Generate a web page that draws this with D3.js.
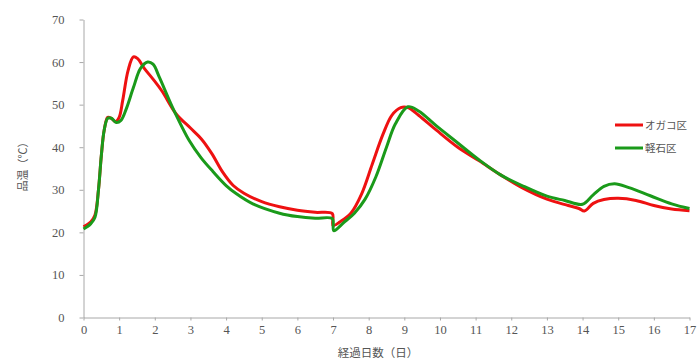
<!DOCTYPE html>
<html><head><meta charset="utf-8">
<script src="https://cdn.jsdelivr.net/npm/d3@7"></script>
<style>body{margin:0;background:#fff}svg{display:block}</style>
</head><body>
<svg id="c" width="697" height="360"></svg>
<script>
const seriesNames = ["オガコ区", "軽石区"];
const seriesColors = ["#ee1111", "#1a9a1a"];
const xTicks = d3.range(0, 18);
const yTicks = [0, 10, 20, 30, 40, 50, 60, 70];
const ogakoDays = [0,0.2,0.32,0.42,0.5,0.58,0.68,0.78,0.9,1.0,1.1,1.25,1.4,1.52,1.7,1.95,2.2,2.6,3.0,3.3,3.6,3.9,4.2,4.5,5.0,5.5,6.0,6.5,6.98,7.0,7.2,7.5,7.8,8.1,8.4,8.65,8.9,9.1,9.4,9.9,10.5,11.1,11.7,12.3,13.0,13.6,13.9,14.05,14.3,14.6,15.0,15.5,16.0,16.5,17.0];
const ogakoTemp = [21.3,22.4,24,30,38,44,47,46.8,46,47,51,58,61.2,60.8,58.6,56,53.2,47.8,44.5,42,38.5,34.2,31,29.2,27.2,26,25.2,24.7,24.4,21.6,22.5,24.5,29,36,43,47.5,49.3,49.3,47.5,44,40,36.8,33.5,30.5,27.8,26.3,25.6,25.0,26.8,27.7,28,27.5,26.3,25.5,25.1];
const karuishiDays = [0,0.2,0.32,0.42,0.5,0.58,0.68,0.78,0.92,1.05,1.2,1.4,1.6,1.8,1.95,2.13,2.5,2.97,3.3,3.63,4.0,4.3,4.75,5.5,6.0,6.5,6.98,7.02,7.3,7.6,7.9,8.2,8.5,8.75,9.1,9.4,9.9,10.5,11.1,11.7,12.3,13.0,13.5,14.0,14.3,14.6,14.9,15.3,15.9,16.5,17.0];
const karuishiTemp = [20.8,22,23.5,30,38,44,46.8,46.8,45.8,46.3,49,54,58.5,60,59.5,56.4,49.3,41.5,37.5,34.3,31,29,26.7,24.5,23.7,23.3,23.2,20.4,22.3,24.5,27.8,33,40,45.5,49.5,48.5,45,41,37,33.5,31,28.5,27.5,26.6,28.8,30.8,31.4,30.5,28.6,26.7,25.6];

const svg = d3.select("#c");
const x = d3.scaleLinear().domain([0, 17]).range([83.5, 689.5]);
const y = d3.scaleLinear().domain([0, 70]).range([317.5, 19.5]);
const numFont = "'Liberation Serif', serif";
const cjkFont = "'Noto Sans CJK JP', sans-serif";

const xAx = svg.append("g").attr("transform", "translate(0,317.5)")
  .call(d3.axisBottom(x).tickValues(xTicks).tickSize(3).tickPadding(5).tickSizeOuter(0));
const yAx = svg.append("g").attr("transform", "translate(83.5,0)")
  .call(d3.axisLeft(y).tickValues(yTicks).tickSize(4).tickPadding(15).tickSizeOuter(0));
[xAx, yAx].forEach(a => {
  a.select(".domain").attr("stroke", "#a8a8a8");
  a.selectAll(".tick line").attr("stroke", "#a8a8a8");
  a.selectAll(".tick text").attr("fill", "#555").style("font-family", numFont).style("font-size", "12.5px");
});

const line = d3.line().x(d => x(d[0])).y(d => y(d[1])).curve(d3.curveCatmullRom.alpha(0.5));
const data = [d3.zip(ogakoDays, ogakoTemp), d3.zip(karuishiDays, karuishiTemp)];
data.forEach((s, i) => {
  svg.append("path").datum(s).attr("d", line).attr("fill", "none")
    .attr("stroke", seriesColors[i]).attr("stroke-width", 3).attr("stroke-linejoin", "round");
});

const leg = svg.append("g");
seriesNames.forEach((n, i) => {
  const yy = 125 + i * 23;
  leg.append("line").attr("x1", 615).attr("x2", 643).attr("y1", yy).attr("y2", yy)
    .attr("stroke", seriesColors[i]).attr("stroke-width", 3);
  leg.append("text").attr("x", 645).attr("y", yy + 4).text(n)
    .style("font-family", cjkFont).style("font-size", "10.5px").attr("fill", "#555");
});

svg.append("text").attr("transform", "translate(27,164) rotate(-90)").attr("text-anchor", "middle")
  .text("品温（℃）").style("font-family", cjkFont).style("font-size", "11px").attr("fill", "#555");
svg.append("text").attr("x", 378).attr("y", 357).attr("text-anchor", "middle")
  .text("経過日数（日）").style("font-family", cjkFont).style("font-size", "11.5px").attr("fill", "#555");
</script>
</body></html>
